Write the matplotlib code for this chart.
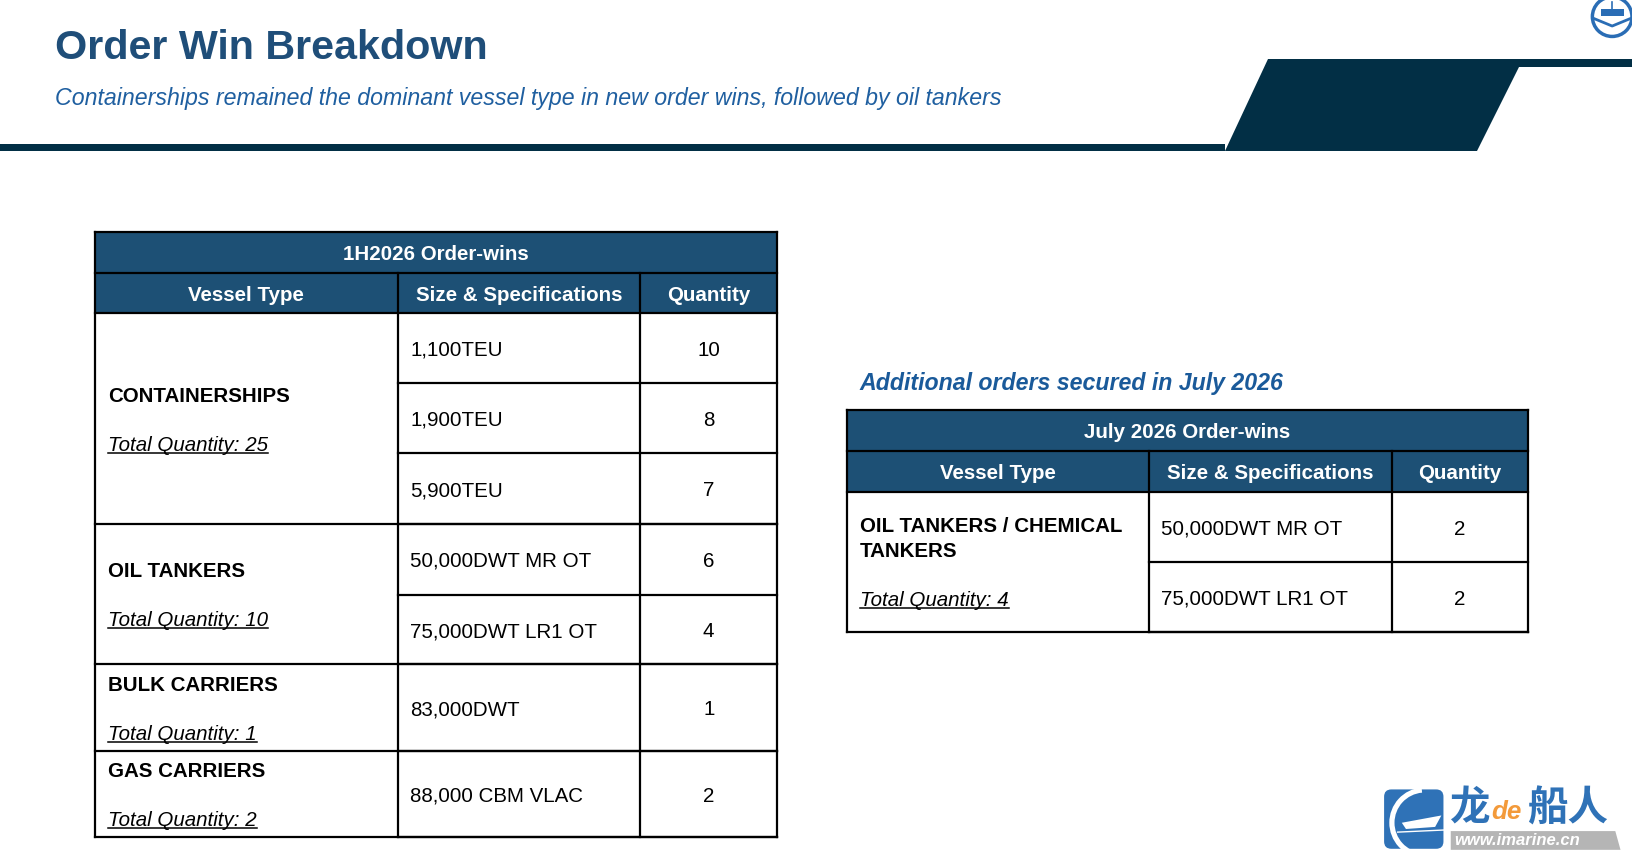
import matplotlib
matplotlib.use("Agg")
import matplotlib.pyplot as plt
from matplotlib.patches import Polygon, Rectangle, Circle, FancyBboxPatch, Wedge

plt.rcParams['font.family'] = ['Liberation Sans', 'DejaVu Sans']

title = "Order Win Breakdown"
subtitle = "Containerships remained the dominant vessel type in new order wins, followed by oil tankers"
col_heads = ["Vessel Type", "Size & Specifications", "Quantity"]

# 1H2026 table
t1_title = "1H2026 Order-wins"
t1_types = [["CONTAINERSHIPS"], ["OIL TANKERS"], ["BULK CARRIERS"], ["GAS CARRIERS"]]
t1_totals = [25, 10, 1, 2]
t1_specs = [["1,100TEU", "1,900TEU", "5,900TEU"],
            ["50,000DWT MR OT", "75,000DWT LR1 OT"],
            ["83,000DWT"],
            ["88,000 CBM VLAC"]]
t1_qty = [[10, 8, 7], [6, 4], [1], [2]]

# July 2026 table
t2_heading = "Additional orders secured in July 2026"
t2_title = "July 2026 Order-wins"
t2_types = [["OIL TANKERS / CHEMICAL", "TANKERS"]]
t2_totals = [4]
t2_specs = [["50,000DWT MR OT", "75,000DWT LR1 OT"]]
t2_qty = [[2, 2]]

W, H = 1633, 863
S = 1633 / 1568  # layout measured on a 1568-wide view
fig = plt.figure(figsize=(W / 100, H / 100), dpi=100)
ax = fig.add_axes([0, 0, 1, 1])
ax.set_xlim(0, W / S)
ax.set_ylim(H / S, 0)
ax.axis('off')

DY = 2  # small nudge so text sits like the slide


def fs(v):
    return v * S


navy = '#022f45'
head_fill = '#1d5075'
title_col = '#1f4e79'
sub_col = '#1f5fa0'
logo_blue = '#2f72b7'
tfs = 14.2

# header band (measured in full-size pixels)
band = [(0, 144), (1225, 144), (1225, 151), (0, 151)]
wedge = [(1268, 59), (1633, 59), (1633, 67), (1519, 67), (1477, 151), (1225, 151)]
ax.add_patch(Polygon([(x / S, y / S) for x, y in band], color=navy, lw=0))
ax.add_patch(Polygon([(x / S, y / S) for x, y in wedge], color=navy, lw=0))

ax.text(53, 44 + DY, title, fontsize=fs(28.5), fontweight='bold', color=title_col, va='center', ha='left')
ax.text(53, 93 + DY, subtitle, fontsize=fs(16), style='italic', color=sub_col, va='center', ha='left')

underlines = []


def draw_table(xs, y0, head_rows, row_heights, ttl, types, totals, specs, qty, type_pos):
    x0, x1 = xs[0], xs[-1]
    ax.add_patch(Rectangle((x0, y0), x1 - x0, head_rows[1] - y0, color=head_fill, lw=0))
    ax.text((x0 + x1) / 2, (y0 + head_rows[0]) / 2 + DY, ttl, fontsize=fs(tfs), fontweight='bold',
            color='white', ha='center', va='center')
    for i, h in enumerate(col_heads):
        ax.text((xs[i] + xs[i + 1]) / 2, (head_rows[0] + head_rows[1]) / 2 + DY, h,
                fontsize=fs(tfs), fontweight='bold', color='white', ha='center', va='center')
    lw = 1.6
    for yv in (y0, head_rows[0], head_rows[1]):
        ax.plot([x0, x1], [yv, yv], color='black', lw=lw)
    y = head_rows[1]
    for b in range(len(types)):
        yb = y
        for r, (s, q) in enumerate(zip(specs[b], qty[b])):
            rh = row_heights[b][r]
            ax.text(xs[1] + 12, y + rh / 2 + DY, s, fontsize=fs(tfs), color='black', ha='left', va='center')
            ax.text((xs[2] + xs[3]) / 2, y + rh / 2 + DY, str(q), fontsize=fs(tfs), color='black',
                    ha='center', va='center')
            y += rh
            ax.plot([xs[1], x1], [y, y], color='black', lw=lw)
        ax.plot([x0, x1], [y, y], color='black', lw=lw)
        ty, gap = type_pos[b]
        for k, line in enumerate(types[b]):
            ax.text(x0 + 13, yb + ty + k * 24 + DY, line, fontsize=fs(tfs), fontweight='bold', color='black',
                    ha='left', va='center')
        t = ax.text(x0 + 13, yb + ty + gap + DY, "Total Quantity: %d" % totals[b], fontsize=fs(tfs),
                    style='italic', color='black', ha='left', va='center')
        underlines.append(t)
    for xv in xs:
        top = y0 if xv in (x0, x1) else head_rows[0]
        ax.plot([xv, xv], [top, y], color='black', lw=lw)


draw_table([91, 382, 615, 746], 223, [262, 301],
           [[67, 67, 68], [68, 67], [83], [83]],
           t1_title, t1_types, t1_totals, t1_specs, t1_qty,
           [(78, 47), (44, 47), (18, 47), (18, 47)])

ax.text(825, 366 + DY, t2_heading, fontsize=fs(16), fontweight='bold', style='italic', color='#1a5a9a',
        ha='left', va='center')
draw_table([813, 1103, 1337, 1467], 394, [433, 472],
           [[68, 67]],
           t2_title, t2_types, t2_totals, t2_specs, t2_qty,
           [(32, 71)])

# top-right emblem
ax.add_patch(Circle((1548, 16), 19, fill=False, ec='#2a6db5', lw=2.5))
ax.add_patch(Rectangle((1537, 9), 22, 6, color='#2a6db5', lw=0))
ax.plot([1531, 1548, 1565], [18, 25, 18], color='#2a6db5', lw=2)
ax.plot([1548, 1548], [2, 9], color='#2a6db5', lw=1.2)

# bottom-right logo
ax.add_patch(FancyBboxPatch((1329, 758), 57, 57, boxstyle='round,pad=0,rounding_size=7',
                            color=logo_blue, lw=0))
ax.add_patch(Wedge((1368, 790), 34, 95, 265, width=5, color='white', lw=0))
ax.add_patch(Polygon([(1346, 790), (1384, 783), (1378, 794), (1350, 796)], color='white', lw=0))
ax.plot([1342, 1386], [799, 797], color='white', lw=1)
ax.add_patch(Polygon([(1393, 798), (1551, 798), (1556, 816), (1393, 816)], color='#b5b5b5', lw=0))
ax.text(1396, 807.5, "www.imarine.cn", fontsize=fs(11.5), fontweight='bold', style='italic',
        color='white', ha='left', va='center')
ax.text(1391, 777, "龙", fontsize=fs(28), fontweight='bold', color=logo_blue, ha='left', va='center',
        family=['Noto Sans CJK SC'])
ax.text(1432, 780, "de", fontsize=fs(18), fontweight='bold', style='italic', color='#f39a3a',
        ha='left', va='center')
ax.text(1466, 777, "船人", fontsize=fs(28), fontweight='bold', color=logo_blue, ha='left', va='center',
        family=['Noto Sans CJK SC'])

# underline the total labels
fig.canvas.draw()
r = fig.canvas.get_renderer()
inv = ax.transData.inverted()
for t in underlines:
    bb = t.get_window_extent(r)
    (a, yb), (b, _) = inv.transform([(bb.x0, bb.y0), (bb.x1, bb.y1)])
    ax.plot([a, b], [yb - 2, yb - 2], color='black', lw=1.1)

fig.savefig("out.png", dpi=100, facecolor='white')
